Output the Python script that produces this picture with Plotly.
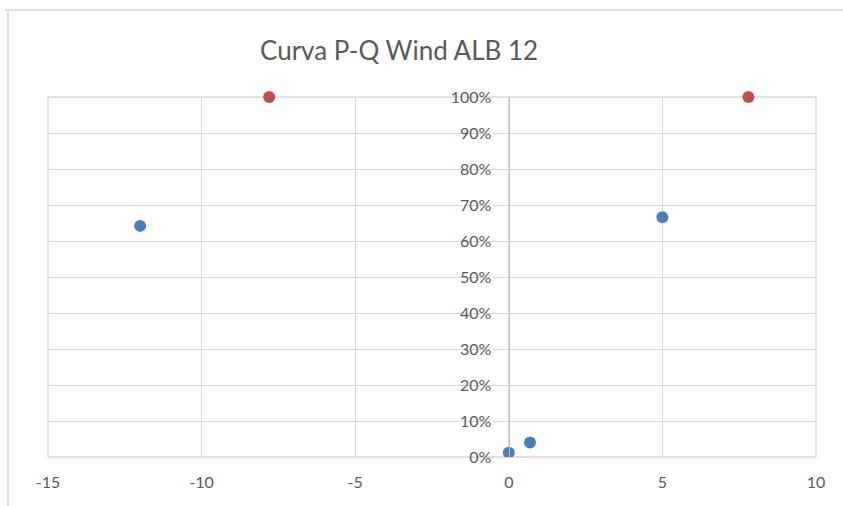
import plotly.graph_objects as go

# P-Q operating points (reactive power vs. active power share)
q_points = [-12.0, 5.0, 0.0, 0.69]
p_points = [0.642, 0.666, 0.012, 0.040]

# Reactive power limits at full output
q_limits = [-7.8, 7.8]
p_limits = [1.0, 1.0]

x_ticks = [-15, -10, -5, 0, 5, 10]
x_tick_labels = ["-15", "-10", "-5", "0", "5", "10"]
y_ticks = [0, 0.1, 0.2, 0.3, 0.4, 0.5, 0.6, 0.7, 0.8, 0.9, 1.0]

W, H = 843, 506
L, R, T, B = 48, 27, 97, 49
grid = "#d9d9d9"
txt = "#595959"
font = "Lato"

fig = go.Figure()
fig.add_trace(go.Scatter(x=q_points, y=p_points, mode="markers",
                         marker=dict(size=12, color="#4a7ebb"), showlegend=False))
fig.add_trace(go.Scatter(x=q_limits, y=p_limits, mode="markers",
                         marker=dict(size=12, color="#c0504d"), showlegend=False,
                         cliponaxis=False))

fig.update_layout(
    width=W, height=H,
    margin=dict(l=L, r=R, t=T, b=B),
    paper_bgcolor="white", plot_bgcolor="white",
    font=dict(family=font, color=txt, size=16),
    xaxis=dict(range=[-15, 10], tickvals=x_ticks, ticktext=x_tick_labels,
               showgrid=True, gridcolor=grid, gridwidth=1.3, zeroline=False,
               showline=True, linecolor=grid, linewidth=1.3,
               ticks="", ticklabelstandoff=11, tickfont=dict(size=16, color=txt)),
    yaxis=dict(range=[0, 1], tickvals=y_ticks, tickformat=".0%", showgrid=True,
               gridcolor=grid, gridwidth=1.3, zeroline=False, showline=True,
               linecolor="#bfbfbf", linewidth=1.3, anchor="free", position=0.6,
               ticks="", ticklabelstandoff=14, tickfont=dict(size=16, color=txt)),
)

# plot-area frame
fig.add_shape(type="rect", xref="paper", yref="paper", x0=0, x1=1, y0=0, y1=1,
              line=dict(color=grid, width=1.3), layer="below")

# chart-area border (top and left edges visible)
def px_x(px):
    return (px - L) / (W - L - R)

def px_y(py):
    return (H - B - py) / (H - T - B)

fig.add_shape(type="line", xref="paper", yref="paper",
              x0=px_x(5), x1=px_x(845), y0=px_y(10), y1=px_y(10),
              line=dict(color=grid, width=1.5))
fig.add_shape(type="line", xref="paper", yref="paper",
              x0=px_x(8), x1=px_x(8), y0=px_y(10), y1=px_y(510),
              line=dict(color=grid, width=1.5))

fig.add_annotation(text="Curva P-Q Wind ALB 12", xref="paper", yref="paper",
                   x=px_x(399), y=px_y(50), showarrow=False,
                   font=dict(family=font, size=26, color=txt),
                   xanchor="center", yanchor="middle")

fig.write_html("out.html")
